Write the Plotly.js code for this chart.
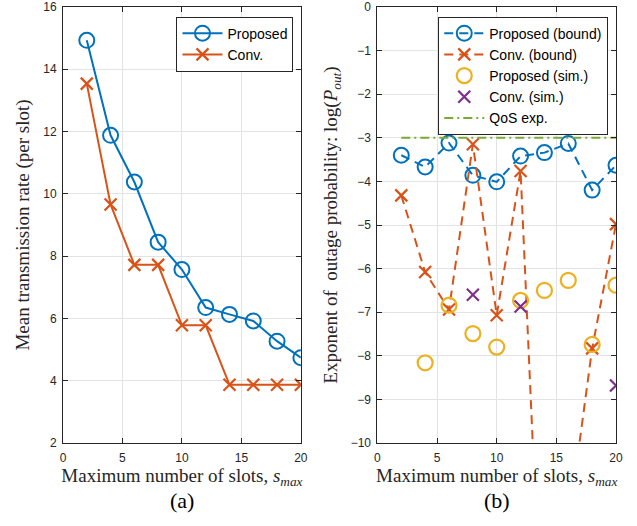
<!DOCTYPE html>
<html>
<head>
<meta charset="utf-8">
<script src="https://cdn.plot.ly/plotly-3.0.1.min.js"></script>
<style>html,body{margin:0;padding:0;background:#fff;}#chart{width:637px;height:526px;}</style>
</head>
<body>
<div id="chart"></div>
<script>
// ---- data ----
const slots = [2, 4, 6, 8, 10, 12, 14, 16, 18, 20];
// (a) mean transmission rate
const rateProposed = [14.93, 11.88, 10.38, 8.45, 7.57, 6.35, 6.13, 5.92, 5.27, 4.74];
const rateConv     = [13.54, 9.66, 7.72, 7.72, 5.78, 5.78, 3.87, 3.87, 3.87, 3.87];
// (b) exponent of outage probability
const outProposedBound = [-3.40, -3.67, -3.12, -3.86, -4.01, -3.42, -3.34, -3.13, -4.20, -3.63];
const outConvBound     = [-4.32, -6.08, -6.94, -3.15, -7.07, -3.76, -16.0, -11.9, -7.83, -4.98];
const outProposedSim   = [null, -8.16, -6.84, -7.49, -7.80, -6.73, -6.50, -6.27, -7.74, -6.38];
const outConvSim       = [null, null, null, -6.60, null, -6.87, null, null, null, -8.68];
const qosX = [2, 20];
const qosY = [-3, -3];
const panelLabels = ['(a)', '(b)'];

const BLUE = '#0072BD', ORANGE = '#D95319', YELLOW = '#EDB120', PURPLE = '#7E2F8E', GREEN = '#77AC30';
const AXC = '#262626';

const traces = [
  {x: slots, y: rateProposed, name: 'Proposed', xaxis: 'x', yaxis: 'y', legend: 'legend',
   mode: 'lines+markers', line: {color: BLUE, width: 2},
   marker: {symbol: 'circle-open', size: 15, color: BLUE, line: {width: 2}}},
  {x: slots, y: rateConv, name: 'Conv.', xaxis: 'x', yaxis: 'y', legend: 'legend',
   mode: 'lines+markers', line: {color: ORANGE, width: 2},
   marker: {symbol: 'x-thin-open', size: 12, color: ORANGE, line: {width: 2.2, color: ORANGE}}},
  {x: slots, y: outProposedBound, name: 'Proposed (bound)', xaxis: 'x2', yaxis: 'y2', legend: 'legend2',
   mode: 'lines+markers', line: {color: BLUE, width: 2, dash: '9px,6px'},
   marker: {symbol: 'circle-open', size: 15, color: BLUE, line: {width: 2}}},
  {x: slots, y: outConvBound, name: 'Conv. (bound)', xaxis: 'x2', yaxis: 'y2', legend: 'legend2',
   mode: 'lines+markers', line: {color: ORANGE, width: 2, dash: '9px,6px'},
   marker: {symbol: 'x-thin-open', size: 12, color: ORANGE, line: {width: 2.2, color: ORANGE}}},
  {x: slots, y: outProposedSim, name: 'Proposed (sim.)', xaxis: 'x2', yaxis: 'y2', legend: 'legend2',
   mode: 'markers',
   marker: {symbol: 'circle-open', size: 15, color: YELLOW, line: {width: 2.2}}},
  {x: slots, y: outConvSim, name: 'Conv. (sim.)', xaxis: 'x2', yaxis: 'y2', legend: 'legend2',
   mode: 'markers',
   marker: {symbol: 'x-thin-open', size: 12, color: PURPLE, line: {width: 2.2, color: PURPLE}}},
  {x: qosX, y: qosY, name: 'QoS exp.', xaxis: 'x2', yaxis: 'y2', legend: 'legend2',
   mode: 'lines', line: {color: GREEN, width: 2, dash: '9px,4px,2px,4px'}}
];

const tickFont = {family: 'Liberation Sans, Arial, sans-serif', size: 12, color: AXC};
const titleFont = {family: 'Liberation Serif, Times New Roman, serif', size: 19, color: AXC};
const axBase = {
  showline: true, linecolor: AXC, linewidth: 1, mirror: 'ticks',
  ticks: 'inside', ticklen: 5, tickcolor: AXC, tickwidth: 1,
  showgrid: true, gridcolor: '#e3e3e3', gridwidth: 1,
  zeroline: false, tickfont: tickFont, fixedrange: true
};

const layout = {
  width: 637, height: 526,
  margin: {l: 62.7, r: 21, t: 6.5, b: 83.3},
  paper_bgcolor: '#fff', plot_bgcolor: '#fff',
  showlegend: true,
  xaxis: Object.assign({}, axBase, {domain: [0, 0.4301], range: [0, 20], dtick: 5, tick0: 0, anchor: 'y',
    ticklabelstandoff: 4,
    title: {text: 'Maximum number of slots, <i>s</i><sub><i>max</i></sub>', font: titleFont, standoff: 0}}),
  yaxis: Object.assign({}, axBase, {domain: [0, 1], range: [2, 16], dtick: 2, tick0: 2, anchor: 'x',
    ticklabelstandoff: 3,
    title: {text: 'Mean transmission rate (per slot)', font: titleFont, standoff: 8}}),
  xaxis2: Object.assign({}, axBase, {domain: [0.5686, 1], range: [0, 20], dtick: 5, tick0: 0, anchor: 'y2',
    ticklabelstandoff: 4,
    title: {text: 'Maximum number of slots, <i>s</i><sub><i>max</i></sub>', font: titleFont, standoff: 0}}),
  yaxis2: Object.assign({}, axBase, {domain: [0, 1], range: [-10, 0], dtick: 1, tick0: 0, anchor: 'x2',
    ticklabelstandoff: 3,
    title: {text: 'Exponent of  outage probability: log(<i>P</i><sub><i>out</i></sub>)', font: titleFont, standoff: 8}}),
  legend: {x: 0.4168, xanchor: 'right', y: 0.978, yanchor: 'top', bgcolor: '#fff',
    bordercolor: AXC, borderwidth: 1, tracegroupgap: 0, itemwidth: 40,
    font: {family: 'Liberation Sans, Arial, sans-serif', size: 14, color: '#000'}},
  legend2: {x: 0.986, xanchor: 'right', y: 0.978, yanchor: 'top', bgcolor: '#fff',
    bordercolor: AXC, borderwidth: 1, tracegroupgap: 0, itemwidth: 40,
    font: {family: 'Liberation Sans, Arial, sans-serif', size: 14, color: '#000'}},
  annotations: [
    {text: panelLabels[0], xref: 'paper', yref: 'paper', x: 0.215, y: -0.131, xanchor: 'center', yanchor: 'middle',
     showarrow: false, font: {family: 'Liberation Serif, Times New Roman, serif', size: 22, color: '#000'}},
    {text: panelLabels[1], xref: 'paper', yref: 'paper', x: 0.784, y: -0.131, xanchor: 'center', yanchor: 'middle',
     showarrow: false, font: {family: 'Liberation Serif, Times New Roman, serif', size: 22, color: '#000'}}
  ]
};

Plotly.newPlot('chart', traces, layout, {staticPlot: true, displayModeBar: false});
</script>
</body>
</html>
